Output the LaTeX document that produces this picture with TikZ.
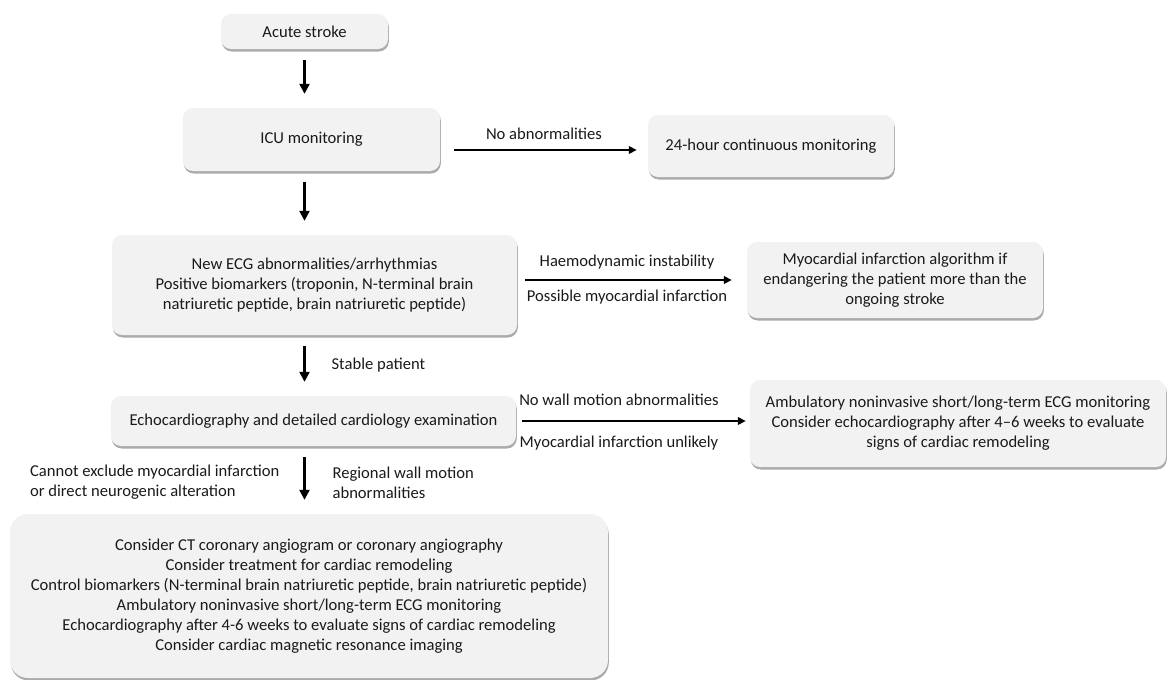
\documentclass[tikz,border=0pt]{standalone}
\usepackage{fontspec}
\setmainfont{Carlito}
\usetikzlibrary{arrows.meta,shadows}
\definecolor{boxgray}{HTML}{F2F2F2}
\definecolor{inkgray}{HTML}{1A1A1A}

\begin{document}
\begin{tikzpicture}[x=1pt,y=-1pt,
	font=\fontsize{16.6}{20}\selectfont, text=inkgray,
	stepbox/.style={fill=boxgray, rounded corners=10pt, align=center, inner sep=0pt,
		drop shadow={shadow xshift=0.8pt, shadow yshift=-2.5pt, opacity=0.6, fill=black!55}},
	downarrow/.style={-{Triangle[length=10pt,width=10pt]}, line width=2.2pt, draw=black,
		shorten <=11pt, shorten >=14pt},
	sidearrow/.style={-{Triangle[length=8pt,width=7.5pt]}, line width=1.8pt, draw=black},
	note/.style={inner sep=0pt, align=left}]

	\useasboundingbox (0,0) rectangle (1168,680);

	% main column
	\node[stepbox, minimum width=167pt, minimum height=35pt] (acute) at (304.5,31.5) {Acute stroke};
	\node[stepbox, minimum width=257pt, minimum height=63pt] (icu) at (311.5,139.5) {ICU monitoring};
	\node[stepbox, minimum width=405pt, minimum height=100pt] (ecg) at (314.5,285)
		{New ECG abnormalities/arrhythmias\\Positive biomarkers (troponin, N-terminal brain\\natriuretic peptide, brain natriuretic peptide)};
	\node[stepbox, minimum width=405pt, minimum height=50pt] (echo) at (313.5,421)
		{Echocardiography and detailed cardiology examination};
	\node[stepbox, rounded corners=18pt, minimum width=598pt, minimum height=164pt] (plan) at (309,596)
		{Consider CT coronary angiogram or coronary angiography\\
		Consider treatment for cardiac remodeling\\
		Control biomarkers (N-terminal brain natriuretic peptide, brain natriuretic peptide)\\
		Ambulatory noninvasive short/long-term ECG monitoring\\
		Echocardiography after 4-6 weeks to evaluate signs of cardiac remodeling\\
		Consider cardiac magnetic resonance imaging};

	% side branches
	\node[stepbox, minimum width=246pt, minimum height=62pt] (day) at (771,146) {24-hour continuous monitoring};
	\node[stepbox, minimum width=296pt, minimum height=76pt] (mialgo) at (895,280)
		{Myocardial infarction algorithm if\\endangering the patient more than the\\ongoing stroke};
	\node[stepbox, minimum width=416pt, minimum height=87pt] (ambul) at (958,423.5)
		{Ambulatory noninvasive short/long-term ECG monitoring\\Consider echocardiography after 4--6 weeks to evaluate\\signs of cardiac remodeling};

	\draw[downarrow] (acute.south) -- (acute.south |- icu.north);
	\draw[downarrow] (icu.south -| acute) -- (ecg.north -| acute);
	\draw[downarrow] (ecg.south -| acute) -- (echo.north -| acute)
		node[midway, note, anchor=west, xshift=26pt] {Stable patient};
	\draw[downarrow] (echo.south -| acute) -- (plan.north -| acute)
		node[midway, note, anchor=west, xshift=27pt, yshift=-2.5pt] {Regional wall motion\\abnormalities}
		node[midway, note, anchor=east, xshift=-24pt, yshift=-2.5pt] {Cannot exclude myocardial infarction\\or direct neurogenic alteration};

	\draw[sidearrow, shorten <=14pt, shorten >=11pt] ([yshift=-10.5pt]icu.east) -- ([yshift=-10.5pt]icu.east -| day.west)
		node[midway, yshift=16pt] {No abnormalities};
	\draw[sidearrow, shorten <=8pt, shorten >=15pt] (mialgo.west -| ecg.east) -- (mialgo.west)
		node[midway, xshift=-5pt, yshift=18pt] {Haemodynamic instability}
		node[midway, xshift=-5pt, yshift=-17pt] {Possible myocardial infarction};
	\draw[sidearrow, shorten <=6pt, shorten >=4pt] (echo.east) -- (echo.east -| ambul.west)
		node[midway, xshift=-14pt, yshift=21pt] {No wall motion abnormalities}
		node[midway, xshift=-14pt, yshift=-22pt] {Myocardial infarction unlikely};
\end{tikzpicture}
\end{document}
